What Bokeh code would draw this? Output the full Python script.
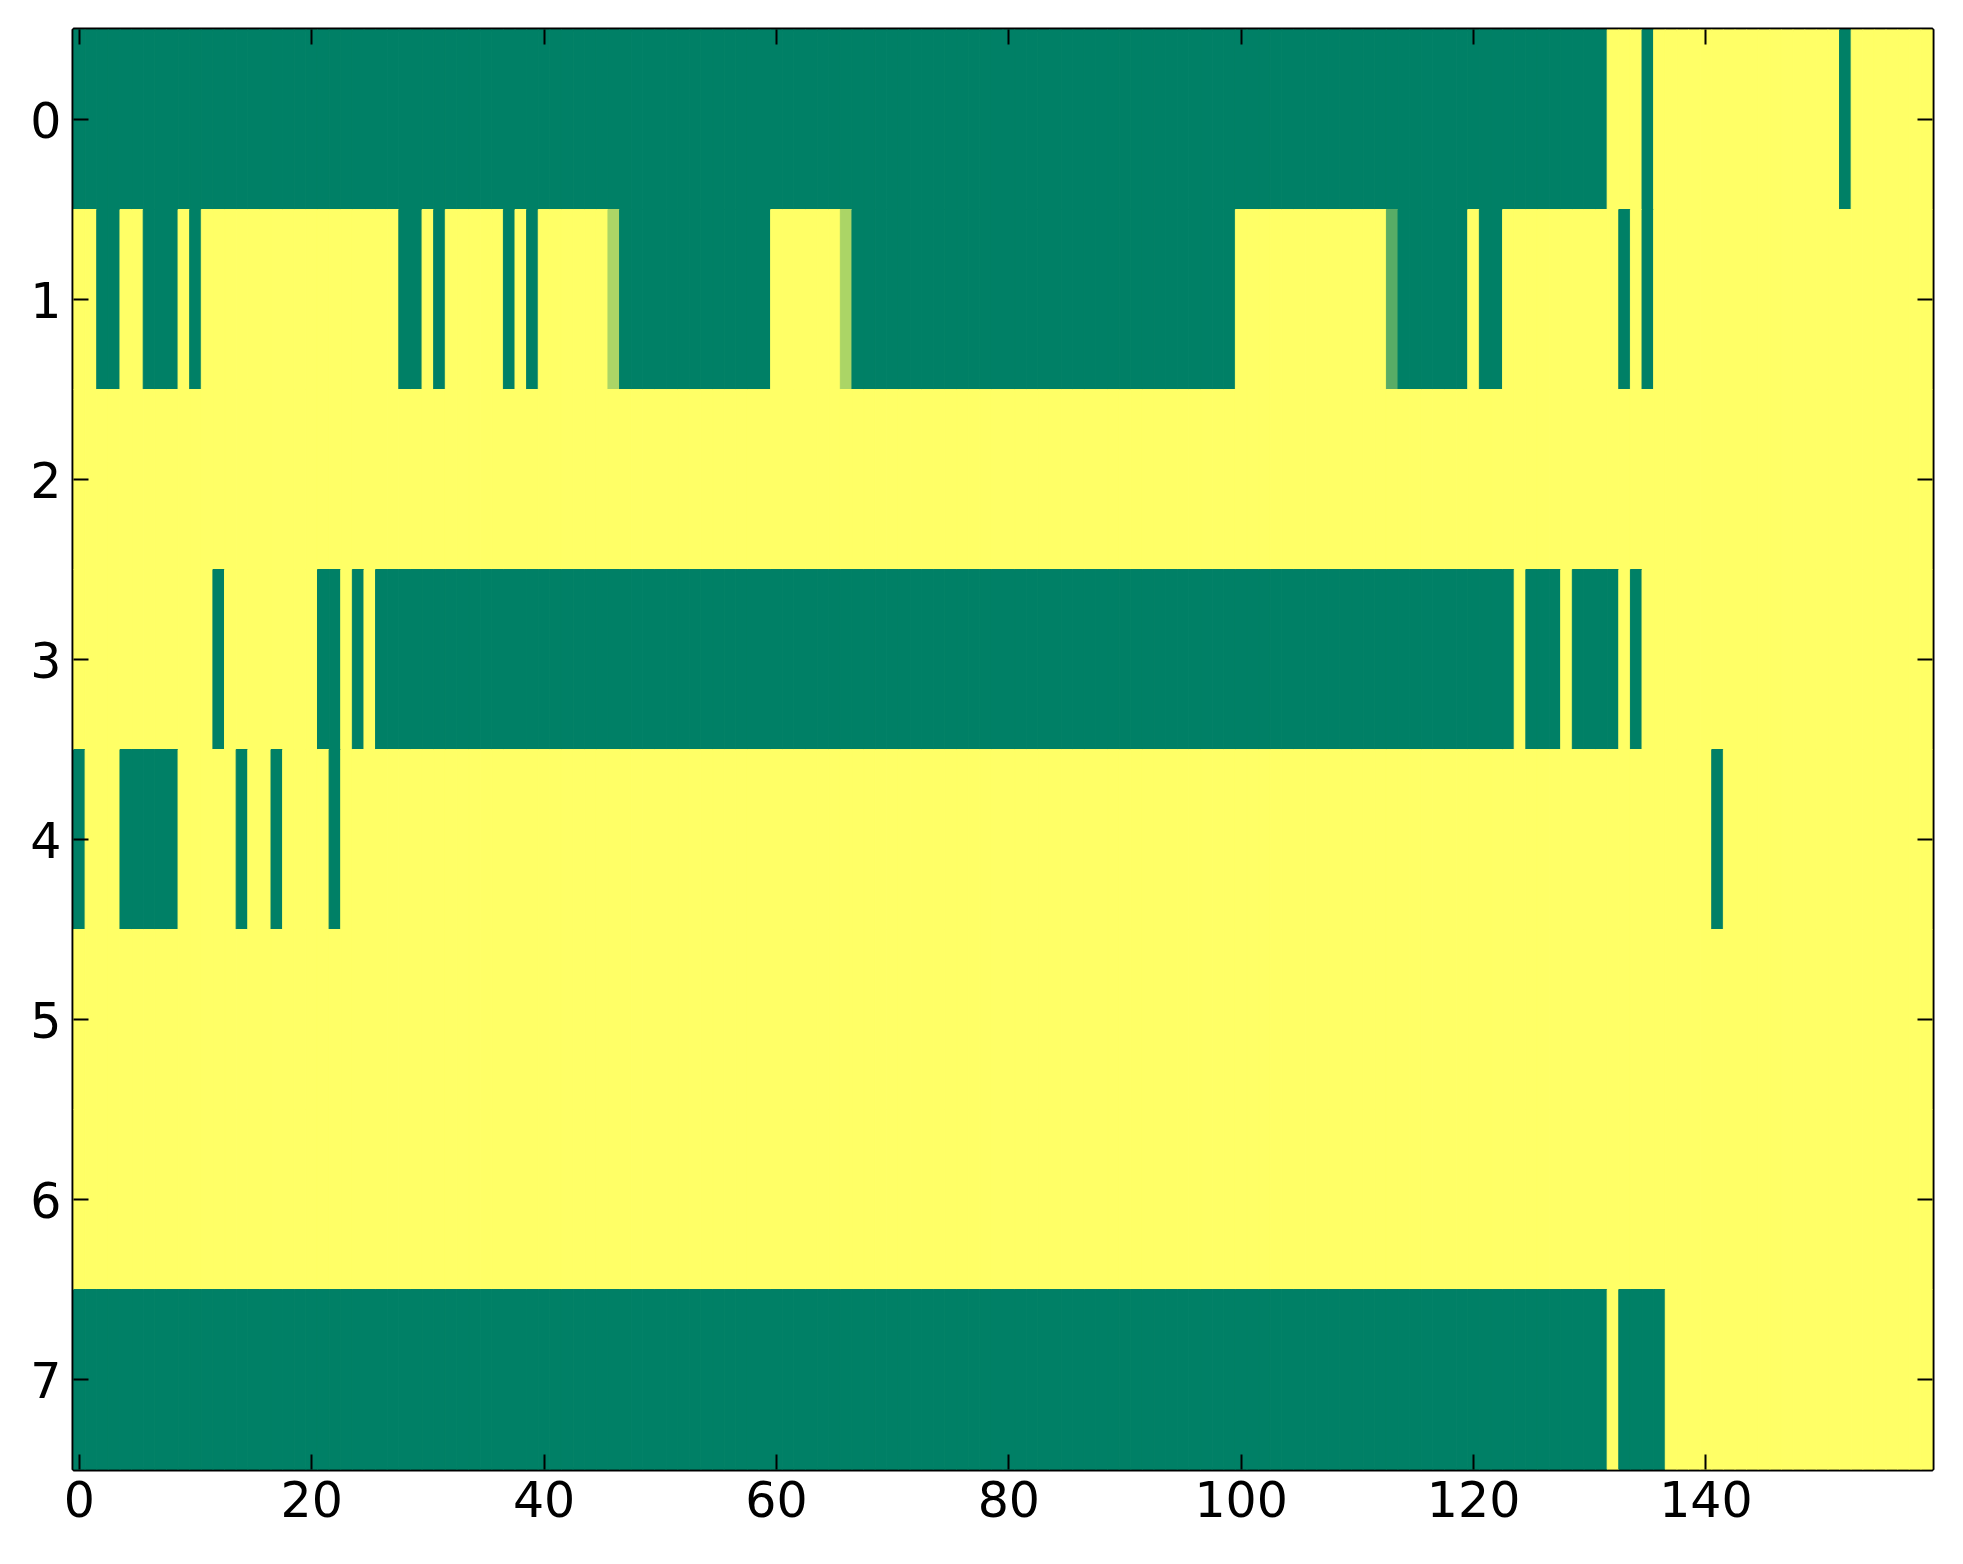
import numpy as np
from bokeh.plotting import figure
from bokeh.models import ColumnDataSource, LinearAxis, LinearColorMapper, Range1d, FixedTicker
from bokeh.transform import transform
from bokeh.embed import file_html
from bokeh.resources import INLINE

# every row as runs of (value, number of cells), read left to right
row_0 = [(0.0, 132), (1.0, 3), (0.0, 1), (1.0, 16), (0.0, 1), (1.0, 7)]
row_1 = [(1.0, 2), (0.0, 2), (1.0, 2), (0.0, 3), (1.0, 1), (0.0, 1), (1.0, 17),
         (0.0, 2), (1.0, 1), (0.0, 1), (1.0, 5), (0.0, 1), (1.0, 1), (0.0, 1),
         (1.0, 6), (0.67, 1), (0.0, 13), (1.0, 6), (0.67, 1), (0.0, 33),
         (1.0, 13), (0.35, 1), (0.0, 6), (1.0, 1), (0.0, 2), (1.0, 10),
         (0.0, 1), (1.0, 1), (0.0, 1), (1.0, 24)]
row_2 = [(1.0, 160)]
row_3 = [(1.0, 12), (0.0, 1), (1.0, 8), (0.0, 2), (1.0, 1), (0.0, 1), (1.0, 1),
         (0.0, 98), (1.0, 1), (0.0, 3), (1.0, 1), (0.0, 4), (1.0, 1), (0.0, 1),
         (1.0, 25)]
row_4 = [(0.0, 1), (1.0, 3), (0.0, 5), (1.0, 5), (0.0, 1), (1.0, 2), (0.0, 1),
         (1.0, 4), (0.0, 1), (1.0, 118), (0.0, 1), (1.0, 18)]
row_5 = [(1.0, 160)]
row_6 = [(1.0, 160)]
row_7 = [(0.0, 132), (1.0, 1), (0.0, 4), (1.0, 23)]
rows = [row_0, row_1, row_2, row_3, row_4, row_5, row_6, row_7]

x_ticks = [0, 20, 40, 60, 80, 100, 120, 140]
y_ticks = [0, 1, 2, 3, 4, 5, 6, 7]

# expand the runs into single cells
xs, ys, vals = [], [], []
for r, runs in enumerate(rows):
    col = 0
    for v, n in runs:
        for _ in range(n):
            xs.append(col)
            ys.append(r)
            vals.append(v)
            col += 1
n_cols = max(xs) + 1
n_rows = len(rows)

source = ColumnDataSource(data=dict(x=xs, y=ys, value=vals))

# matplotlib 'summer' colormap
summer = ['#%02x%02x%02x' % (round(255 * t), round(255 * (0.5 + 0.5 * t)), 102)
          for t in np.linspace(0, 1, 256)]
mapper = LinearColorMapper(palette=summer, low=0, high=1)

p = figure(frame_width=1859, frame_height=1440,
           x_range=Range1d(-0.5, n_cols - 0.5),
           y_range=Range1d(n_rows - 0.5, -0.5),
           min_border_left=73, min_border_right=12,
           min_border_top=29, min_border_bottom=67,
           tools='', toolbar_location=None, output_backend='svg')

p.rect(x='x', y='y', width=1, height=1, source=source,
       fill_color=transform('value', mapper),
       line_color=transform('value', mapper), line_width=1)

p.add_layout(LinearAxis(), 'above')
p.add_layout(LinearAxis(), 'right')

for ax in p.xaxis:
    ax.ticker = FixedTicker(ticks=x_ticks)
for ax in p.yaxis:
    ax.ticker = FixedTicker(ticks=y_ticks)

for ax in p.axis:
    ax.axis_line_color = None
    ax.major_tick_in = 15
    ax.major_tick_out = 0
    ax.major_tick_line_width = 2
    ax.major_tick_line_color = 'black'
    ax.minor_tick_line_color = None
    ax.major_label_text_font = 'DejaVu Sans'
    ax.major_label_text_font_size = '49px'
    ax.major_label_text_color = 'black'

p.below[0].major_label_standoff = 11
p.left[0].major_label_standoff = 12

# top and right axes only carry ticks
p.above[0].major_label_overrides = {t: '' for t in x_ticks}
p.right[0].major_label_overrides = {t: '' for t in y_ticks}
for ax in [p.above[0], p.right[0]]:
    ax.major_label_standoff = 0

p.xgrid.grid_line_color = None
p.ygrid.grid_line_color = None
p.outline_line_color = 'black'
p.outline_line_width = 4
p.outline_line_alpha = 1
p.background_fill_color = 'white'
p.border_fill_color = 'white'

open("out.html", "w").write(file_html(p, INLINE))
